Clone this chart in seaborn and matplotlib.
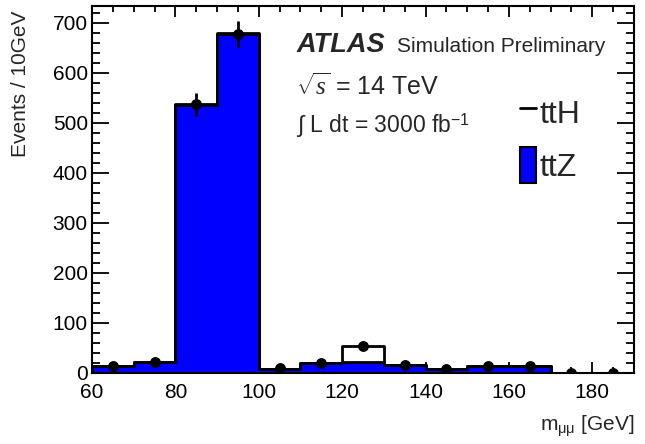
import numpy as np
import pandas as pd
import matplotlib
matplotlib.use("Agg")
import matplotlib.pyplot as plt
import seaborn as sns
from matplotlib.lines import Line2D
from matplotlib.patches import Patch
from matplotlib.ticker import MultipleLocator

# ---- data ----
bin_edges = [60, 70, 80, 90, 100, 110, 120, 130, 140, 150, 160, 170, 180, 190]
ttZ = [13, 22, 536, 678, 8, 20, 21, 15, 8, 13, 13, 0, 0]
ttH = [0.3, 0.3, 1, 1, 0.5, 0.5, 33, 0.5, 0.3, 0.3, 0.3, 0, 0]
points = [13, 22, 537, 678, 9, 20, 54, 15, 8, 13, 13, 0, 0]
xticks = [60, 80, 100, 120, 140, 160, 180]
yticks = [0, 100, 200, 300, 400, 500, 600, 700]

edges = np.array(bin_edges, dtype=float)
centers = 0.5 * (edges[:-1] + edges[1:])
total = np.array(ttZ) + np.array(ttH)

sns.set_theme(style="ticks")
plt.rcParams["font.family"] = ["Liberation Sans", "DejaVu Sans"]
plt.rcParams["mathtext.fontset"] = "custom"
plt.rcParams["mathtext.rm"] = "Liberation Sans"
plt.rcParams["mathtext.it"] = "Liberation Serif:italic"
plt.rcParams["mathtext.bf"] = "Liberation Sans:bold"

fig = plt.figure(figsize=(6.45, 4.44), dpi=100)
ax = fig.add_axes([0.1426, 0.16, 0.8404, 0.8265])

df_z = pd.DataFrame({"m": centers, "w": ttZ})
df_t = pd.DataFrame({"m": centers, "w": total})

sns.histplot(data=df_z, x="m", weights="w", bins=list(bin_edges), element="step", fill=True,
             facecolor="#0000ff", edgecolor="black", linewidth=2, alpha=1, ax=ax)
sns.histplot(data=df_t, x="m", weights="w", bins=list(bin_edges), element="step", fill=False,
             color="black", linewidth=2, ax=ax)

ax.errorbar(centers, points, yerr=np.sqrt(points), fmt="o", color="black",
            markersize=6.8, elinewidth=2, capsize=0, zorder=5)

ax.set_xlim(60, 190)
ax.set_ylim(0, 734)
ax.set_xticks(xticks)
ax.set_yticks(yticks)
ax.xaxis.set_minor_locator(MultipleLocator(5))
ax.yaxis.set_minor_locator(MultipleLocator(20))
ax.tick_params(axis="both", which="both", direction="in", top=True, right=True,
               colors="black", labelsize=15, width=1.3)
ax.tick_params(axis="y", which="major", length=12, pad=3)
ax.tick_params(axis="y", which="minor", length=6)
ax.tick_params(axis="x", which="major", length=8, pad=7)
ax.tick_params(axis="x", which="minor", length=4)
for s in ax.spines.values():
    s.set_linewidth(1.5)
    s.set_color("black")

ax.set_xlabel(r"m$_{\mathrm{\mu\mu}}$ [GeV]", fontsize=15, loc="right")
ax.xaxis.set_label_coords(1.0, -0.11)
ax.set_ylabel("Events / 10GeV", fontsize=15, loc="top")
ax.yaxis.set_label_coords(-0.115, 0.988)

ax.text(0.377, 0.875, "ATLAS", transform=ax.transAxes, fontsize=19.5,
        fontweight="bold", fontstyle="italic", va="baseline")
ax.text(0.563, 0.875, "Simulation Preliminary", transform=ax.transAxes, fontsize=15,
        va="baseline")
ax.text(0.377, 0.757, r"$\sqrt{s}$ = 14 TeV", transform=ax.transAxes, fontsize=18,
        va="baseline")
ax.text(0.377, 0.654, r"$\int$ L dt = 3000 fb$^{\mathregular{-1}}$", transform=ax.transAxes,
        fontsize=16.5, va="baseline")

handles = [Line2D([0], [0], color="black", lw=2),
           Patch(facecolor="#0000ff", edgecolor="black", linewidth=1.5)]
leg = ax.legend(handles, ["ttH", "ttZ"], loc="upper left", bbox_to_anchor=(0.79, 0.76),
                frameon=False, fontsize=23, handlelength=0.5, handleheight=1.35,
                handletextpad=0.1, labelspacing=0.55, borderpad=0, borderaxespad=0)

fig.savefig("out.png", dpi=100)
